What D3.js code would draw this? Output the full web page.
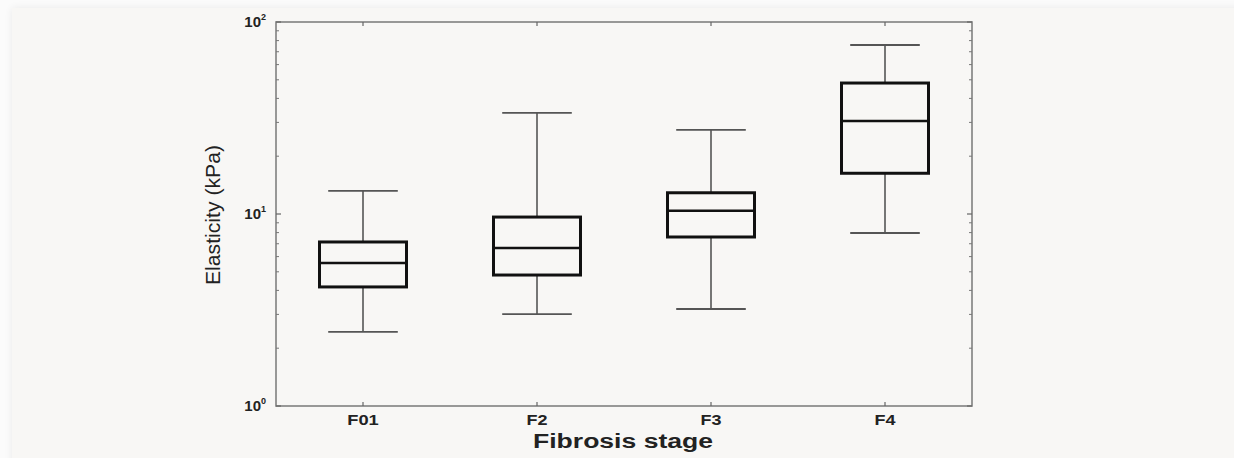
<!DOCTYPE html>
<html>
<head>
<meta charset="utf-8">
<script src="https://cdn.jsdelivr.net/npm/d3@7"></script>
<style>
  html, body { margin: 0; padding: 0; background: #fbfbfb; overflow: hidden; }
  #card { position: absolute; left: 12px; top: 8px; width: 1240px; height: 470px; background: #f8f7f5;
          box-shadow: 0 0 8px rgba(0,0,0,0.07); }
  svg { position: absolute; left: 0; top: 0; }
</style>
</head>
<body>
<div id="card"></div>
<svg id="chart" width="1234" height="458"></svg>
<script>
const categories = ["F01", "F2", "F3", "F4"];
const whiskerLow  = [2.43, 3.01, 3.2, 7.96];
const q1          = [4.17, 4.81, 7.59, 16.3];
const median      = [5.56, 6.65, 10.4, 30.5];
const q3          = [7.15, 9.64, 12.9, 48.1];
const whiskerHigh = [13.2, 33.6, 27.4, 75.9];
const yTickValues = [1, 10, 100];
const yTickExponents = ["0", "1", "2"];
const xTitle = "Fibrosis stage";
const yTitle = "Elasticity (kPa)";

(function () {
const svg = d3.select("#chart");
const pL = 276, pR = 972, pT = 22, pB = 406;
const font = "Liberation Sans, Arial, Helvetica, sans-serif";

const x = d3.scaleBand().domain(categories).range([pL, pR]).paddingInner(0).paddingOuter(0);
const y = d3.scaleLog().domain([1, 100]).range([pB, pT]);

const g = svg.append("g");

// frame
g.append("rect").attr("x", pL).attr("y", pT).attr("width", pR - pL).attr("height", pB - pT)
  .attr("fill", "none").attr("stroke", "#808080").attr("stroke-width", 1.6);

// minor log ticks (inward) on left and right
const minor = [];
for (let d = 1; d < 100; d *= 10) for (let m = 2; m <= 9; m++) minor.push(d * m);
g.selectAll(".mtl").data(minor).join("line")
  .attr("x1", pL).attr("x2", pL + 3).attr("y1", d => y(d)).attr("y2", d => y(d))
  .attr("stroke", "#777").attr("stroke-width", 1);
g.selectAll(".mtr").data(minor).join("line")
  .attr("x1", pR).attr("x2", pR - 3).attr("y1", d => y(d)).attr("y2", d => y(d))
  .attr("stroke", "#777").attr("stroke-width", 1);
// major ticks
g.selectAll(".Mt").data(yTickValues).join("line")
  .attr("x1", pL).attr("x2", pL + 5).attr("y1", d => y(d)).attr("y2", d => y(d))
  .attr("stroke", "#666").attr("stroke-width", 1.2);
g.selectAll(".Mtr").data(yTickValues).join("line")
  .attr("x1", pR).attr("x2", pR - 5).attr("y1", d => y(d)).attr("y2", d => y(d))
  .attr("stroke", "#666").attr("stroke-width", 1.2);

// x ticks top and bottom
const cx = c => x(c) + x.bandwidth() / 2;
g.selectAll(".xtb").data(categories).join("line")
  .attr("x1", cx).attr("x2", cx).attr("y1", pB).attr("y2", pB - 4)
  .attr("stroke", "#666").attr("stroke-width", 1.2);
g.selectAll(".xtt").data(categories).join("line")
  .attr("x1", cx).attr("x2", cx).attr("y1", pT).attr("y2", pT + 4)
  .attr("stroke", "#666").attr("stroke-width", 1.2);

// y tick labels
const yl = g.selectAll(".yl").data(yTickValues).join("text")
  .attr("x", 266).attr("y", d => y(d) + 5)
  .attr("text-anchor", "end")
  .attr("font-family", font)
  .attr("font-weight", "bold").attr("font-size", 15).attr("fill", "#222");
yl.append("tspan").text("10");
yl.append("tspan").attr("dy", -7).attr("font-size", 9).text((d, i) => yTickExponents[i]);

// x tick labels
g.selectAll(".xl").data(categories).join("text")
  .attr("x", cx).attr("y", 425).attr("text-anchor", "middle")
  .attr("font-family", font)
  .attr("font-weight", "bold").attr("font-size", 15).attr("fill", "#222")
  .attr("textLength", d => d.length * 10.5).attr("lengthAdjust", "spacingAndGlyphs")
  .text(d => d);

// titles
g.append("text").attr("x", 623).attr("y", 448).attr("text-anchor", "middle")
  .attr("font-family", font).attr("font-weight", "bold").attr("font-size", 20).attr("fill", "#222")
  .attr("textLength", 180).attr("lengthAdjust", "spacingAndGlyphs")
  .text(xTitle);
g.append("text").attr("transform", `translate(220,215) rotate(-90)`)
  .attr("text-anchor", "middle")
  .attr("font-family", font).attr("font-size", 20).attr("fill", "#222")
  .attr("textLength", 140).attr("lengthAdjust", "spacingAndGlyphs")
  .text(yTitle);

// boxes
const data = categories.map((c, i) => ({ c, lo: whiskerLow[i], q1: q1[i], med: median[i], q3: q3[i], hi: whiskerHigh[i] }));
const boxW = x.bandwidth() * 0.5, capW = x.bandwidth() * 0.4;
const bg = g.selectAll(".box").data(data).join("g");
bg.append("line").attr("x1", d => cx(d.c)).attr("x2", d => cx(d.c))
  .attr("y1", d => y(d.hi)).attr("y2", d => y(d.q3)).attr("stroke", "#555").attr("stroke-width", 1.6);
bg.append("line").attr("x1", d => cx(d.c)).attr("x2", d => cx(d.c))
  .attr("y1", d => y(d.q1)).attr("y2", d => y(d.lo)).attr("stroke", "#555").attr("stroke-width", 1.6);
bg.append("line").attr("x1", d => cx(d.c) - capW / 2).attr("x2", d => cx(d.c) + capW / 2)
  .attr("y1", d => y(d.hi)).attr("y2", d => y(d.hi)).attr("stroke", "#555").attr("stroke-width", 1.8);
bg.append("line").attr("x1", d => cx(d.c) - capW / 2).attr("x2", d => cx(d.c) + capW / 2)
  .attr("y1", d => y(d.lo)).attr("y2", d => y(d.lo)).attr("stroke", "#555").attr("stroke-width", 1.8);
bg.append("rect").attr("x", d => cx(d.c) - boxW / 2).attr("width", boxW)
  .attr("y", d => y(d.q3)).attr("height", d => y(d.q1) - y(d.q3))
  .attr("fill", "none").attr("stroke", "#111").attr("stroke-width", 3);
bg.append("line").attr("x1", d => cx(d.c) - boxW / 2).attr("x2", d => cx(d.c) + boxW / 2)
  .attr("y1", d => y(d.med)).attr("y2", d => y(d.med)).attr("stroke", "#111").attr("stroke-width", 2.5);
})();
</script>
</body>
</html>
